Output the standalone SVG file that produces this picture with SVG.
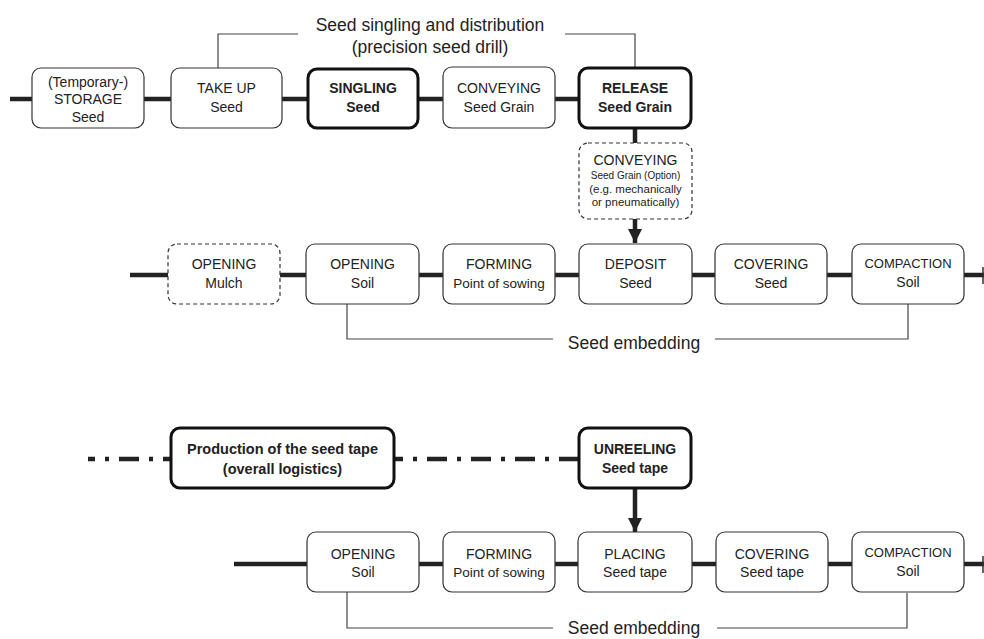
<svg xmlns="http://www.w3.org/2000/svg" width="984" height="639" viewBox="0 0 984 639">
<defs>
<style>
.box{fill:#fff;stroke:#333;stroke-width:1.2}
.bold{fill:#fff;stroke:#111;stroke-width:3}
.dash{fill:#fff;stroke:#333;stroke-width:1.2;stroke-dasharray:4 3}
.flow{fill:none;stroke:#222;stroke-width:4.5}
.dd{fill:none;stroke:#222;stroke-width:4.5;stroke-dasharray:20 10 4 10}
.br{fill:none;stroke:#444;stroke-width:1.2}
text{font-family:"Liberation Sans",Arial,sans-serif;fill:#222;text-anchor:middle}
.t{font-size:14px}
.b{font-size:14px;font-weight:bold}
.s{font-size:10px}
.m{font-size:11.5px}
.lab{font-size:17.5px}
</style>
<marker id="ah" markerWidth="15" markerHeight="16" refX="14" refY="8" orient="auto" markerUnits="userSpaceOnUse">
<path d="M0,1 L14,8 L0,15 z" fill="#222"/>
</marker>
</defs>
<g id="connectors">
<path class="flow" d="M10,99 H578"/>
<path class="flow" d="M130,275 H984"/>
<path class="flow" d="M234,564 H984"/>
<path d="M983,267 V284 M983,556 V573" stroke="#333" stroke-width="1.5"/>
<path class="flow" d="M635,128 V143"/>
<path class="flow" d="M635,219 V243" marker-end="url(#ah)"/>
<path class="flow" d="M635,489 V532" marker-end="url(#ah)"/>
<path class="dd" d="M88,459 H578" stroke-dashoffset="13"/>
<path class="br" d="M218,68 V34 H298 M565,34 H635 V67"/>
<path class="br" d="M347,304 V339 H553 M715,339 H908 V304"/>
<path class="br" d="M347,592 V628 H553 M717,628 H907 V593"/>
</g>
<g id="label-top">
<text class="lab" x="430" y="31">Seed singling and distribution</text>
<text class="lab" x="430" y="53">(precision seed drill)</text>
</g>
<g id="n-storage"><rect class="box" x="32" y="68" width="112" height="60" rx="9"/>
<text class="t" x="88" y="87">(Temporary-)</text><text class="t" x="88" y="104">STORAGE</text><text class="t" x="88" y="122">Seed</text></g>
<g id="n-takeup"><rect class="box" x="171" y="68" width="111" height="60" rx="9"/>
<text class="t" x="226.5" y="93">TAKE UP</text><text class="t" x="226.5" y="112">Seed</text></g>
<g id="n-singling"><rect class="bold" x="308" y="69" width="110" height="59" rx="9"/>
<text class="b" x="363" y="93">SINGLING</text><text class="b" x="363" y="112">Seed</text></g>
<g id="n-conveying1"><rect class="box" x="443" y="67" width="112" height="61" rx="9"/>
<text class="t" x="499" y="93">CONVEYING</text><text class="t" x="499" y="112">Seed Grain</text></g>
<g id="n-release"><rect class="bold" x="579" y="68" width="112" height="60" rx="9"/>
<text class="b" x="635" y="93">RELEASE</text><text class="b" x="635" y="112">Seed Grain</text></g>
<g id="n-conveying2"><rect class="dash" x="579" y="143" width="113" height="76" rx="9"/>
<text class="t" x="635.5" y="165">CONVEYING</text><text class="s" x="635.5" y="179">Seed Grain (Option)</text>
<text class="m" x="635.5" y="193">(e.g. mechanically</text><text class="m" x="635.5" y="206">or pneumatically)</text></g>
<g id="n-mulch"><rect class="dash" x="168" y="244" width="112" height="60" rx="9"/>
<text class="t" x="224" y="269">OPENING</text><text class="t" x="224" y="288">Mulch</text></g>
<g id="n-soil1"><rect class="box" x="306" y="244" width="113" height="60" rx="9"/>
<text class="t" x="362.5" y="269">OPENING</text><text class="t" x="362.5" y="288">Soil</text></g>
<g id="n-forming1"><rect class="box" x="443" y="244" width="112" height="60" rx="9"/>
<text class="t" x="499" y="269">FORMING</text><text class="t" x="499" y="288" style="font-size:13.5px">Point of sowing</text></g>
<g id="n-deposit"><rect class="box" x="579" y="244" width="113" height="60" rx="9"/>
<text class="t" x="635.5" y="269">DEPOSIT</text><text class="t" x="635.5" y="288">Seed</text></g>
<g id="n-covering1"><rect class="box" x="715" y="244" width="112" height="60" rx="9"/>
<text class="t" x="771" y="269">COVERING</text><text class="t" x="771" y="288">Seed</text></g>
<g id="n-compaction1"><rect class="box" x="852" y="244" width="112" height="60" rx="9"/>
<text class="t" x="908" y="268" style="font-size:13px">COMPACTION</text><text class="t" x="908" y="287">Soil</text></g>
<g id="label-emb1"><text class="lab" x="634" y="349">Seed embedding</text></g>
<g id="n-production"><rect class="bold" x="171" y="428" width="223" height="60" rx="9"/>
<text class="b" x="282.5" y="454" style="font-size:14.5px">Production of the seed tape</text><text class="b" x="282.5" y="474" style="font-size:14.5px">(overall logistics)</text></g>
<g id="n-unreeling"><rect class="bold" x="579" y="428" width="112" height="60" rx="9"/>
<text class="b" x="635" y="454">UNREELING</text><text class="b" x="635" y="473">Seed tape</text></g>
<g id="n-soil2"><rect class="box" x="307" y="532" width="112" height="60" rx="9"/>
<text class="t" x="363" y="559">OPENING</text><text class="t" x="363" y="577">Soil</text></g>
<g id="n-forming2"><rect class="box" x="443" y="532" width="112" height="60" rx="9"/>
<text class="t" x="499" y="559">FORMING</text><text class="t" x="499" y="577" style="font-size:13.5px">Point of sowing</text></g>
<g id="n-placing"><rect class="box" x="578" y="532" width="114" height="60" rx="9"/>
<text class="t" x="635" y="559">PLACING</text><text class="t" x="635" y="577">Seed tape</text></g>
<g id="n-covering2"><rect class="box" x="716" y="532" width="112" height="60" rx="9"/>
<text class="t" x="772" y="559">COVERING</text><text class="t" x="772" y="577">Seed tape</text></g>
<g id="n-compaction2"><rect class="box" x="852" y="532" width="112" height="60" rx="9"/>
<text class="t" x="908" y="557" style="font-size:13px">COMPACTION</text><text class="t" x="908" y="576">Soil</text></g>
<g id="label-emb2"><text class="lab" x="634" y="634">Seed embedding</text></g>
</svg>
